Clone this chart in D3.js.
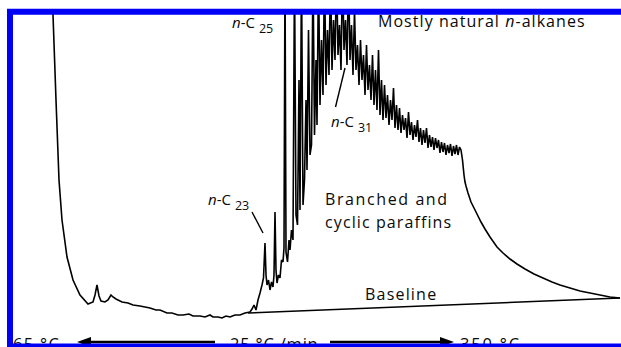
<!DOCTYPE html>
<html>
<head>
<meta charset="utf-8">
<script src="https://cdn.jsdelivr.net/npm/d3@7"></script>
<style>
  html, body { margin: 0; padding: 0; background: #fff; }
  svg { display: block; }
  text { font-family: "Open Sans", sans-serif; fill: #0a0a0a; }
</style>
</head>
<body>
<div id="chart"></div>
<script>
// Retention time (arbitrary min) vs detector signal (arbitrary units)
const trace = [
  [4.25, 330], [4.3, 303], [4.6, 218], [4.9, 138], [5.2, 98], [5.7, 61], [6.3, 38], [7.0, 23],
  [7.8, 14], [8.3, 16], [8.5, 23], [8.7, 33], [8.9, 22], [9.1, 17], [9.5, 16], [9.8, 18],
  [10.1, 23], [10.3, 21], [10.6, 19], [11.2, 16], [11.8, 15], [12.3, 13], [13.0, 12], [13.5, 11],
  [14.0, 10], [14.6, 8], [15.0, 8], [15.7, 5], [16.2, 5], [16.8, 3], [17.3, 3], [17.9, 4],
  [18.3, 2], [19.0, 2], [19.5, 1], [20.0, 3], [20.3, 1], [20.8, 1], [21.2, 0], [21.6, 2],
  [22.0, 1], [22.5, 3], [23.0, 3], [23.5, 5], [24.0, 6], [24.2, 9], [24.4, 13], [24.6, 8],
  [24.8, 18], [25.0, 25], [25.2, 33], [25.35, 40], [25.5, 75], [25.6, 43], [25.7, 33], [25.85, 38],
  [26.0, 28], [26.15, 36], [26.3, 31], [26.4, 43], [26.5, 106], [26.6, 48], [26.7, 35], [26.85, 43],
  [27.0, 40], [27.15, 58], [27.3, 56], [27.4, 70], [27.5, 348], [27.6, 66], [27.75, 56], [27.9, 78],
  [28.0, 68], [28.15, 88], [28.3, 78], [28.45, 348], [28.6, 103], [28.75, 93], [28.9, 238], [29.0, 108],
  [29.15, 348], [29.3, 113], [29.45, 138], [29.6, 218], [29.7, 148], [29.85, 288], [30.0, 163], [30.15, 173],
  [30.3, 348], [30.45, 183], [30.6, 258], [30.7, 193], [30.85, 348], [31.0, 213], [31.15, 278], [31.3, 223],
  [31.45, 348], [31.6, 233], [31.75, 288], [31.9, 243], [32.05, 348], [32.2, 248], [32.35, 298], [32.5, 258],
  [32.65, 348], [32.8, 263], [32.95, 293], [33.1, 248], [33.25, 348], [33.4, 268], [33.55, 298], [33.7, 253],
  [33.85, 348], [34.0, 258], [34.15, 293], [34.3, 243], [34.45, 308], [34.6, 248], [34.75, 273], [34.9, 233],
  [35.05, 278], [35.2, 238], [35.35, 263], [35.5, 223], [35.65, 273], [35.8, 228], [35.95, 253], [36.1, 218],
  [36.25, 263], [36.4, 213], [36.55, 248], [36.7, 208], [36.85, 268], [37.0, 203], [37.15, 238], [37.3, 198],
  [37.45, 233], [37.6, 200], [37.75, 223], [37.9, 193], [38.05, 218], [38.2, 198], [38.35, 230], [38.5, 190],
  [38.65, 213], [38.8, 188], [38.95, 210], [39.1, 185], [39.25, 203], [39.4, 188], [39.55, 200], [39.7, 180],
  [39.85, 206], [40.0, 183], [40.15, 196], [40.3, 178], [40.45, 193], [40.6, 181], [40.75, 198], [40.9, 176],
  [41.05, 190], [41.2, 173], [41.35, 188], [41.5, 175], [41.65, 190], [41.8, 170], [41.95, 183], [42.1, 171],
  [42.25, 181], [42.4, 168], [42.55, 180], [42.7, 170], [42.85, 178], [43.0, 165], [43.15, 176], [43.3, 166],
  [43.45, 175], [43.6, 163], [43.75, 173], [43.9, 165], [44.05, 174], [44.2, 162], [44.35, 172], [44.5, 164],
  [44.65, 173], [44.8, 163], [44.95, 171], [45.1, 168], [45.25, 158], [45.4, 143], [45.5, 136], [45.6, 132],
  [45.8, 125], [46.1, 116], [46.4, 110], [46.7, 104], [47.1, 96], [47.5, 89], [48.0, 81], [48.7, 71],
  [49.3, 65], [50.0, 59], [50.7, 54], [51.5, 49], [52.4, 44], [53.3, 40], [54.2, 36], [55.0, 33],
  [56.0, 30], [57.0, 27], [58.0, 25], [59.0, 23], [60.0, 21], [61.0, 20]
];

// drawn baseline under the unresolved hump
const baseline = [[23.8, 5], [61.0, 20]];

// peak labels: text, subscript, peak anchor [t, s]
const peakLabels = [
  { name: "n-C", sub: "23", peak: [25.5, 75] },
  { name: "n-C", sub: "25", peak: [27.5, 290] },
  { name: "n-C", sub: "31", peak: [33.55, 250] }
];

// region labels
const regionLabels = ["Mostly natural n-alkanes", "Branched and", "cyclic paraffins", "Baseline"];

// temperature programme
const tempStart = "65 °C", tempRate = "25 °C /min", tempEnd = "350 °C";

const W = 621, H = 347;
const svg = d3.select("#chart").append("svg").attr("width", W).attr("height", H);

const x = d3.scaleLinear().domain([0, 61]).range([10, 620]);
const y = d3.scaleLinear().domain([0, 303]).range([318, 15]);

svg.append("defs").append("clipPath").attr("id", "plotClip")
  .append("rect").attr("x", 13).attr("y", 14).attr("width", 608).attr("height", 330);

const plot = svg.append("g").attr("clip-path", "url(#plotClip)");

const line = d3.line().x(d => x(d[0])).y(d => y(d[1]));

plot.append("path").datum(baseline).attr("d", line)
  .attr("fill", "none").attr("stroke", "#000").attr("stroke-width", 1.5);

plot.append("path").datum(trace).attr("d", line)
  .attr("fill", "none").attr("stroke", "#000").attr("stroke-width", 1.6)
  .attr("stroke-linejoin", "miter").attr("stroke-miterlimit", 2);

// peak label text
function peakText(px, py, lab) {
  const t = svg.append("text").attr("x", px).attr("y", py).attr("font-size", 15);
  t.append("tspan").attr("font-style", "italic").text(lab.name.slice(0, 1));
  t.append("tspan").text(lab.name.slice(1));
  t.append("tspan").attr("dx", 4).attr("dy", 5).attr("font-size", 12.5).text(lab.sub);
}
// n-C23 with leader
{
  const lab = peakLabels[0];
  const px = x(lab.peak[0]), py = y(lab.peak[1]);
  peakText(px - 57, py - 38, lab);
  svg.append("line").attr("x1", px - 13).attr("y1", py - 31).attr("x2", px - 2).attr("y2", py - 10)
    .attr("stroke", "#000").attr("stroke-width", 1.4);
}
// n-C25 next to its peak at the top
{
  const lab = peakLabels[1];
  const px = x(lab.peak[0]);
  peakText(px - 53, 28, lab);
}
// n-C31 with leader
{
  const lab = peakLabels[2];
  const px = x(lab.peak[0]), py = y(lab.peak[1]);
  svg.append("line").attr("x1", px - 10).attr("y1", py + 39).attr("x2", px - 0.5).attr("y2", py)
    .attr("stroke", "#000").attr("stroke-width", 1.4);
  peakText(px - 14.5, py + 59, lab);
}

// region labels
{
  const t = svg.append("text").attr("x", 378).attr("y", 27).attr("font-size", 16).attr("letter-spacing", 1.05);
  const parts = regionLabels[0].split("n-");
  t.append("tspan").text(parts[0]);
  t.append("tspan").attr("font-style", "italic").text("n");
  t.append("tspan").text("-" + parts[1]);
}
svg.append("text").attr("x", 325).attr("y", 205).attr("font-size", 16).attr("letter-spacing", 1.6).text(regionLabels[1]);
svg.append("text").attr("x", 325).attr("y", 228).attr("font-size", 16).attr("letter-spacing", 1.1).text(regionLabels[2]);
svg.append("text").attr("x", 365).attr("y", 300).attr("font-size", 16).attr("letter-spacing", 1.2).text(regionLabels[3]);

// temperature programme
svg.append("text").attr("x", 13).attr("y", 350).attr("font-size", 16.5).attr("letter-spacing", 1.3).text(tempStart);
svg.append("text").attr("x", 230).attr("y", 350).attr("font-size", 16.5).attr("letter-spacing", 0.8).text(tempRate);
svg.append("text").attr("x", 460).attr("y", 350).attr("font-size", 16.5).attr("letter-spacing", 1.8).text(tempEnd);

const ay = 342;
svg.append("line").attr("x1", 88).attr("y1", ay).attr("x2", 215).attr("y2", ay).attr("stroke", "#000").attr("stroke-width", 2.6);
svg.append("path").attr("d", `M77,${ay} L91,${ay - 5} L91,${ay + 5} Z`).attr("fill", "#000");
svg.append("line").attr("x1", 330).attr("y1", ay).attr("x2", 442).attr("y2", ay).attr("stroke", "#000").attr("stroke-width", 2.6);
svg.append("path").attr("d", `M454,${ay} L440,${ay - 5} L440,${ay + 5} Z`).attr("fill", "#000");

// blue frame
svg.append("rect").attr("x", 10).attr("y", 11.75).attr("width", 700).attr("height", 334.75)
  .attr("fill", "none").attr("stroke", "#0000f5").attr("stroke-width", 6);
</script>
</body>
</html>
